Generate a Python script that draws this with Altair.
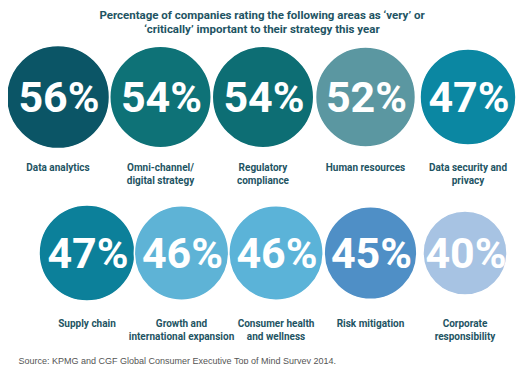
import altair as alt
import pandas as pd

labels = [
    "Data analytics", "Omni-channel/\ndigital strategy", "Regulatory\ncompliance",
    "Human resources", "Data security and\nprivacy",
    "Supply chain", "Growth and\ninternational expansion", "Consumer health\nand wellness",
    "Risk mitigation", "Corporate\nresponsibility",
]
values = [56, 54, 54, 52, 47, 47, 46, 46, 45, 40]
colors = ["#0b5566", "#0e7277", "#0d6e74", "#5b97a1", "#0b87a2",
          "#0c809a", "#5eb3d6", "#5bb3d8", "#4f8fc6", "#a7c3e3"]

title_lines = ["Percentage of companies rating the following areas as \u2018very\u2019 or",
               "\u2018critically\u2019 important to their strategy this year"]
source = "Source: KPMG and CGF Global Consumer Executive Top of Mind Survey 2014."

df = pd.DataFrame({
    "key": [str(i) for i in range(len(values))],
    "label": labels,
    "value": values,
    "pct": [f"{v}%" for v in values],
    "col": [i % 5 for i in range(len(values))],
    "row": [i // 5 for i in range(len(values))],
})

FONT = "Roboto, 'Liberation Sans', sans-serif"
TEXTCOL = "#1e5463"

yscale = alt.Scale(domain=[0, 1], range=[53, 209])
size = alt.Size("value:Q", scale=alt.Scale(domain=[40, 47, 56], range=[7056, 9200, 10609]), legend=None)
color = alt.Color("key:N", scale=alt.Scale(domain=df["key"].tolist(), range=colors), legend=None)


def row_layer(r, xrange, xaxis):
    base = alt.Chart(df).transform_filter(f"datum.row == {r}").encode(
        x=alt.X("col:Q", scale=alt.Scale(domain=[0, 4], range=xrange), axis=xaxis),
        y=alt.Y("row:Q", scale=yscale, axis=None),
    )
    circles = base.mark_circle(opacity=1, stroke="white", strokeWidth=1.5).encode(size=size, color=color)
    pct = base.mark_text(font=FONT, fontSize=43, fontWeight="bold", color="white",
                         baseline="middle", dy=2, dx=1).encode(text="pct:N")
    lab = base.mark_text(font=FONT, fontSize=10, fontWeight="bold", color=TEXTCOL,
                         baseline="top", dy=66, lineBreak="\n", lineHeight=13).encode(text="label:N")
    return alt.layer(circles, pct, lab)


src_axis = alt.Axis(title=source, labels=False, ticks=False, domain=False, grid=False,
                    titleFont="'Liberation Sans', Arial, sans-serif", titleFontSize=9,
                    titleFontWeight="normal", titleColor="#555555", titleAnchor="start",
                    titleAlign="left", titleBaseline="middle", titleX=10, titleY=16)

row1 = row_layer(0, [50, 460], None)
row2 = row_layer(1, [79, 457], src_axis)

chart = alt.layer(row1, row2).resolve_scale(x="independent").properties(
    width=508, height=300,
    padding={"left": 0, "top": 36, "right": 0, "bottom": 20},
    autosize=alt.AutoSizeParams(type="none"),
    title=alt.TitleParams(text=title_lines, font=FONT, fontSize=11.5, fontWeight="bold",
                          color=TEXTCOL, anchor="middle", offset=7, lineHeight=14),
).configure_view(stroke=None)

chart.save("out.html", embed_options={"renderer": "svg", "actions": False})
